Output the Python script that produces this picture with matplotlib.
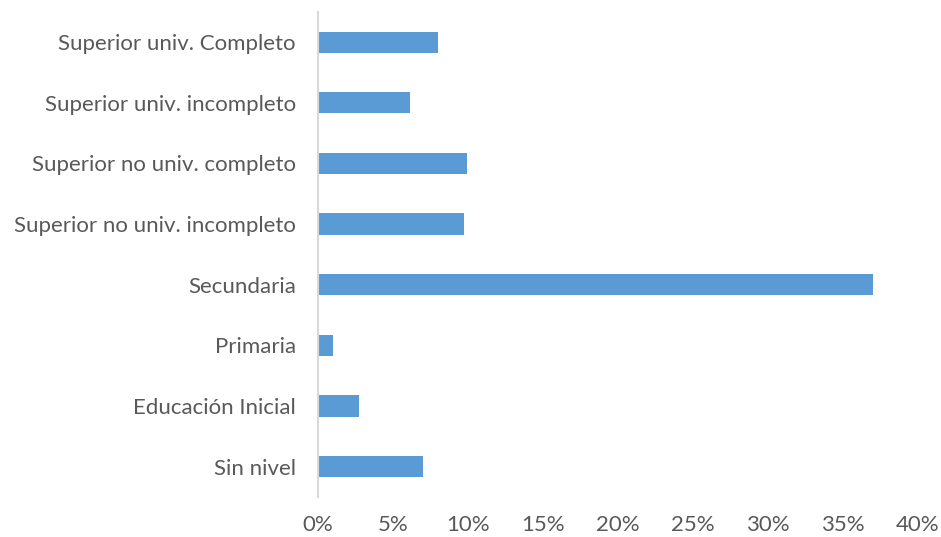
import matplotlib
matplotlib.use("Agg")
import matplotlib.pyplot as plt
from matplotlib.ticker import PercentFormatter

# categories from bottom to top
categories = ["Sin nivel", "Educación Inicial", "Primaria", "Secundaria",
              "Superior no univ. incompleto", "Superior no univ. completo",
              "Superior univ. incompleto", "Superior univ. Completo"]
values = [7.0, 2.7, 1.0, 37.0, 9.7, 9.9, 6.1, 8.0]
xticks = [0, 5, 10, 15, 20, 25, 30, 35, 40]

plt.rcParams['font.family'] = ['Lato', 'DejaVu Sans']

fig = plt.figure(figsize=(9.41, 5.37), dpi=100)
ax = fig.add_axes([0.338, 0.0745, 0.6376, 0.9035])

ax.barh(categories, values, height=0.35, color="#5B9BD5")

ax.set_xlim(0, 40)
ax.set_ylim(-0.5, len(categories) - 0.5)
ax.set_xticks(xticks)
ax.xaxis.set_major_formatter(PercentFormatter(decimals=0))

for s in ["top", "right", "bottom"]:
    ax.spines[s].set_visible(False)
ax.spines["left"].set_color("#d9d9d9")
ax.spines["left"].set_linewidth(1.5)

ax.tick_params(axis="both", length=0, labelsize=16, colors="#595959")
ax.tick_params(axis="x", pad=13)
ax.tick_params(axis="y", pad=16)

fig.savefig("out.png", dpi=100)
